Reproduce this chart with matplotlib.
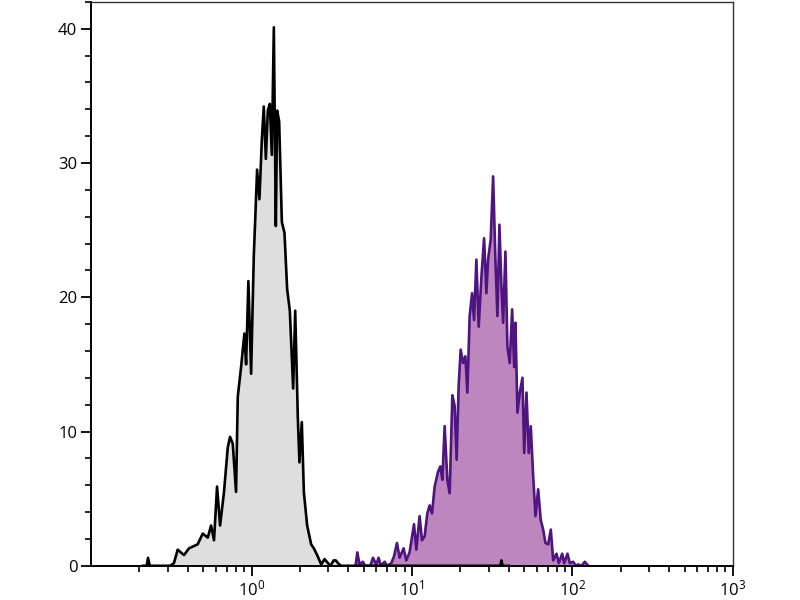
import matplotlib
matplotlib.use("Agg")
import matplotlib.pyplot as plt
from matplotlib.ticker import LogLocator, MultipleLocator, NullFormatter, LogFormatterMathtext

plt.rcParams['font.family'] = ['Open Sans', 'DejaVu Sans']
plt.rcParams['mathtext.fontset'] = 'custom'
plt.rcParams['mathtext.rm'] = 'Open Sans'
plt.rcParams['mathtext.it'] = 'Open Sans'

# control (unstained) histogram
control_x = [0.21, 0.222, 0.226, 0.232, 0.31, 0.328, 0.346, 0.379, 0.407, 0.461, 0.496,
             0.533, 0.559, 0.583, 0.609, 0.636, 0.673, 0.710, 0.734, 0.763, 0.800,
             0.820, 0.860, 0.902, 0.924, 0.955, 0.993, 1.032, 1.052, 1.082, 1.119,
             1.158, 1.191, 1.227, 1.262, 1.299, 1.337, 1.376, 1.416, 1.443, 1.485,
             1.544, 1.603, 1.666, 1.731, 1.816, 1.870, 1.942, 1.987, 2.056, 2.117,
             2.220, 2.351, 2.444, 2.563, 2.716, 2.85, 2.991, 3.10, 3.25, 3.35, 3.454,
             3.6, 35.5, 36.1, 36.7, 40.0]
control_y = [0.0, 0.0, 0.6, 0.0, 0.0, 0.2, 1.2, 0.8, 1.3, 1.6, 2.4,
             2.1, 3.0, 1.9, 5.9, 3.0, 5.5, 8.8, 9.6, 9.1, 5.5,
             12.6, 14.8, 17.3, 15.0, 21.2, 14.3, 23.1, 25.6, 29.5, 27.3,
             31.7, 34.2, 30.3, 33.9, 34.4, 30.6, 40.1, 25.3, 33.9, 33.1,
             25.6, 24.8, 20.6, 19.0, 13.2, 19.0, 11.0, 7.7, 10.7, 5.5,
             3.0, 1.6, 1.3, 0.8, 0.1, 0.5, 0.2, 0.0, 0.4, 0.4, 0.2,
             0.0, 0.0, 0.4, 0.0, 0.0]

# stained sample histogram
stained_x = [4.45, 4.56, 4.71, 4.94, 5.1, 5.5, 5.71, 5.99, 6.19, 6.4, 6.75, 7.0, 7.43,
             7.72, 8.06, 8.37, 8.86, 9.21, 9.66, 10.29, 10.64, 11.15, 11.54, 11.99,
             12.46, 12.88, 13.33, 13.84, 14.53, 15.02, 15.46, 15.98, 16.61, 17.17,
             17.85, 18.45, 18.98, 19.54, 20.11, 20.82, 21.51, 22.14, 22.88, 23.69,
             24.38, 25.20, 26.05, 27.08, 28.15, 29.09, 29.81, 30.95, 32.04, 33.11,
             34.08, 35.07, 36.10, 36.99, 38.23, 39.35, 40.67, 42.10, 43.33, 44.15,
             45.44, 46.97, 48.83, 50.04, 51.73, 53.45, 55.02, 56.94, 58.86, 61.17,
             63.50, 65.73, 67.94, 70.63, 73.33, 75.89, 79.58, 82.26, 86.37, 88.89,
             93.20, 96.34, 101.2, 105.0, 108.7, 114.0, 119.5, 125.5]
stained_y = [0.0, 1.0, 0.1, 0.3, 0.0, 0.0, 0.6, 0.1, 0.6, 0.0, 0.3, 0.0, 0.2,
             0.7, 1.7, 0.6, 1.3, 0.4, 1.0, 3.1, 1.2, 3.7, 1.9, 2.2,
             3.9, 4.5, 3.9, 5.9, 7.0, 7.4, 6.4, 10.4, 6.4, 5.4,
             12.7, 11.9, 7.9, 13.4, 16.1, 15.1, 15.6, 12.9, 18.6, 20.3,
             18.3, 22.8, 17.8, 21.5, 24.4, 20.3, 22.8, 24.3, 29.0, 22.8,
             18.6, 25.4, 20.8, 18.1, 23.4, 16.3, 15.1, 19.1, 14.8, 18.1,
             11.4, 12.9, 14.0, 8.4, 12.9, 8.4, 10.4, 6.7, 3.7, 5.7,
             3.4, 2.7, 1.7, 1.6, 2.7, 0.4, 0.9, 0.2, 0.9, 0.2,
             0.9, 0.2, 0.3, 0.0, 0.1, 0.0, 0.3, 0.0]

fig = plt.figure(figsize=(8, 6), dpi=100)
ax = fig.add_axes([0.114, 0.057, 0.802, 0.940])

ax.fill_between(stained_x, stained_y, 0, color='#be86be', lw=0)
ax.plot(stained_x, stained_y, color='#4e1580', lw=1.9)
ax.fill_between(control_x, control_y, 0, color='#dedede', lw=0)
ax.plot(control_x, control_y, color='black', lw=1.9)

ax.set_xscale('log')
ax.set_xlim(0.1, 1000)
ax.set_ylim(0, 42)

ax.xaxis.set_major_locator(LogLocator(base=10, numticks=10))
ax.xaxis.set_minor_locator(LogLocator(base=10, subs=range(2, 10), numticks=20))
ax.xaxis.set_major_formatter(LogFormatterMathtext())
ax.xaxis.set_minor_formatter(NullFormatter())
ax.set_xticks([1, 10, 100, 1000])
ax.yaxis.set_major_locator(MultipleLocator(10))
ax.yaxis.set_minor_locator(MultipleLocator(2))

ax.tick_params(which='major', length=7, width=1.3, labelsize=12, colors='black', pad=3)
ax.tick_params(which='minor', length=4, width=1.2)
for s in ['left', 'bottom']:
    ax.spines[s].set_linewidth(1.4)
for s in ['top', 'right']:
    ax.spines[s].set_linewidth(1.0)
    ax.spines[s].set_color('#333333')

fig.savefig('out.png', dpi=100)
